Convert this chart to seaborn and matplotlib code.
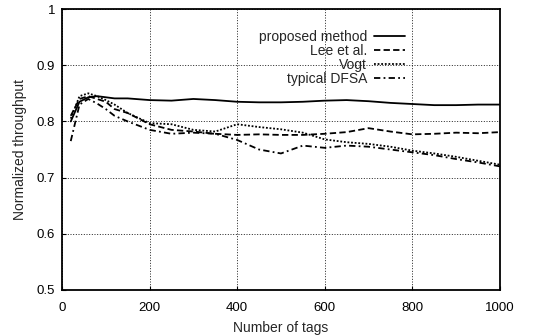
import matplotlib
matplotlib.use('Agg')
import matplotlib.pyplot as plt
import seaborn as sns
import pandas as pd

# 数据
tags = [20, 40, 60, 80, 100, 120, 150, 200, 250, 300, 350, 400, 450, 500,
        550, 600, 650, 700, 750, 800, 850, 900, 950, 1000]
proposed = [0.800, 0.835, 0.843, 0.845, 0.843, 0.841, 0.841, 0.838, 0.837, 0.840,
            0.838, 0.835, 0.834, 0.834, 0.835, 0.837, 0.838, 0.836, 0.833, 0.831,
            0.829, 0.829, 0.830, 0.830]
lee = [0.810, 0.840, 0.845, 0.840, 0.835, 0.822, 0.815, 0.795, 0.785, 0.782,
       0.778, 0.776, 0.777, 0.776, 0.776, 0.778, 0.781, 0.788, 0.782, 0.777,
       0.778, 0.780, 0.779, 0.781]
vogt = [0.805, 0.845, 0.850, 0.845, 0.838, 0.830, 0.815, 0.797, 0.795, 0.785,
        0.782, 0.795, 0.790, 0.786, 0.780, 0.768, 0.763, 0.760, 0.755, 0.748,
        0.743, 0.737, 0.730, 0.723]
dfsa = [0.765, 0.830, 0.840, 0.832, 0.822, 0.810, 0.800, 0.785, 0.778, 0.780,
        0.778, 0.767, 0.750, 0.743, 0.757, 0.753, 0.757, 0.755, 0.750, 0.745,
        0.740, 0.733, 0.727, 0.720]
methods = ['proposed method', 'Lee et al.', 'Vogt', 'typical DFSA']

rows = []
for name, vals in zip(methods, [proposed, lee, vogt, dfsa]):
    for t, v in zip(tags, vals):
        rows.append({'tags': t, 'throughput': v, 'method': name})
df = pd.DataFrame(rows)

sns.set_style('ticks')
plt.rcParams['font.family'] = ['Liberation Sans', 'DejaVu Sans']

fig = plt.figure(figsize=(5.33, 3.36), dpi=100)
ax = fig.add_axes([0.1163, 0.137, 0.8217, 0.836])

dashes = {'proposed method': '', 'Lee et al.': (3.5, 1.8), 'Vogt': (1, 1),
          'typical DFSA': (3.5, 1.8, 1, 1.8)}
sns.lineplot(data=df, x='tags', y='throughput', hue='method', style='method',
             hue_order=methods, style_order=methods,
             palette=['black'] * 4, dashes=dashes, linewidth=1.3, ax=ax)

ax.set_xlim(0, 1000)
ax.set_ylim(0.5, 1.0)
ax.set_xticks([0, 200, 400, 600, 800, 1000])
ax.set_yticks([0.5, 0.6, 0.7, 0.8, 0.9, 1.0])
ax.set_yticklabels(['0.5', '0.6', '0.7', '0.8', '0.9', '1'])
ax.grid(True, color='black', linestyle=(0, (1.2, 2)), linewidth=0.6)
for s in ax.spines.values():
    s.set_linewidth(1.3)
    s.set_color('black')
ax.tick_params(labelsize=9.5, length=3, direction='in', colors='black')
ax.tick_params(axis='x', pad=9)
ax.tick_params(axis='y', pad=5)
ax.set_xlabel('Number of tags', fontsize=10, labelpad=5)
ax.set_ylabel('Normalized throughput', fontsize=10, labelpad=7)

# markerfirst=False 时文字自动右对齐
leg = ax.legend(loc='upper right', bbox_to_anchor=(0.795, 0.945), frameon=False,
                markerfirst=False, fontsize=10, handlelength=2.2,
                labelspacing=0.0, borderaxespad=0.0, handletextpad=0.5)

plt.savefig('out.png', dpi=100)
plt.close()
